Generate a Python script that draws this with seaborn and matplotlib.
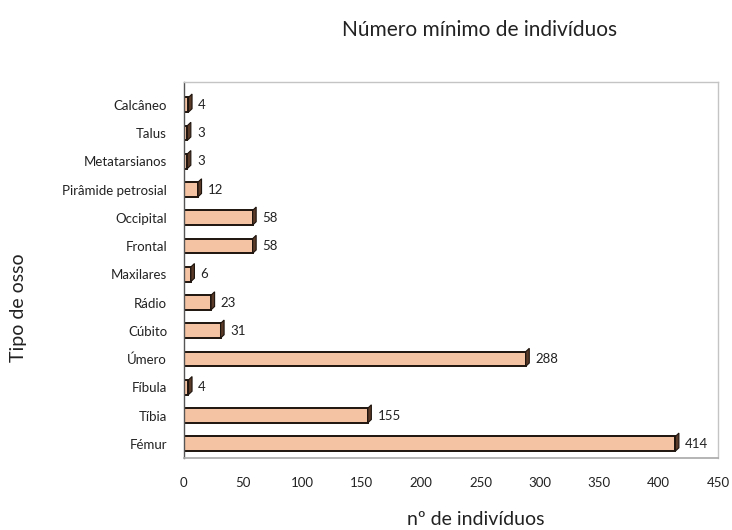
import matplotlib
matplotlib.use("Agg")
import matplotlib.pyplot as plt
import seaborn as sns
import pandas as pd
from matplotlib.patches import Polygon

ossos = ['Calcâneo', 'Talus', 'Metatarsianos', 'Pirâmide petrosial', 'Occipital',
         'Frontal', 'Maxilares', 'Rádio', 'Cúbito', 'Úmero', 'Fíbula', 'Tíbia', 'Fémur']
individuos = [4, 3, 3, 12, 58, 58, 6, 23, 31, 288, 4, 155, 414]
x_ticks = [0, 50, 100, 150, 200, 250, 300, 350, 400, 450]

df = pd.DataFrame({'Osso': ossos, 'Individuos': individuos})

sns.set_style("white")
plt.rcParams['font.family'] = ['Lato', 'DejaVu Sans']

fig = plt.figure(figsize=(7.32, 5.30), dpi=100)
ax = fig.add_axes([0.251, 0.136, 0.730, 0.709])

sns.barplot(data=df, x='Individuos', y='Osso', orient='h', color='#f3c3a3',
            width=0.52, edgecolor='#1e140e', linewidth=1.4, saturation=1, ax=ax)

# small dark end cap for the 3D look
for p in ax.patches:
    w = p.get_width()
    y0 = p.get_y()
    h = p.get_height()
    d = 3.0
    cap = Polygon([(w, y0), (w + d, y0 - 0.12), (w + d, y0 + h - 0.12), (w, y0 + h)],
                  closed=True, facecolor='#5a3a28', edgecolor='#1e140e', linewidth=0.8)
    ax.add_patch(cap)

ax.bar_label(ax.containers[0], labels=[str(v) for v in individuos], padding=7,
             fontsize=9.5, color='#222222')

ax.set_xlim(0, 450)
ax.set_ylim(12.5, -0.8)
ax.set_xticks(x_ticks)
ax.tick_params(axis='x', length=0, pad=14, labelsize=9.5, labelcolor='#222222')
ax.tick_params(axis='y', length=0, pad=12, labelsize=9.5, labelcolor='#222222')

for s in ['top', 'right']:
    ax.spines[s].set_color('#c4c4c4')
    ax.spines[s].set_linewidth(1.0)
ax.spines['bottom'].set_color('#a8a8a8')
ax.spines['bottom'].set_linewidth(1.2)
ax.spines['left'].set_color('#555555')
ax.spines['left'].set_linewidth(1.0)

ax.set_xlabel('nº de indivíduos', fontsize=14, color='#222222')
ax.xaxis.set_label_coords(0.547, -0.142)
ax.set_ylabel('Tipo de osso', fontsize=14, color='#222222')
ax.yaxis.set_label_coords(-0.294, 0.4)

fig.text(0.655, 0.943, 'Número mínimo de indivíduos', ha='center', va='center',
         fontsize=15, color='#222222')

fig.savefig('out.png', dpi=100)
